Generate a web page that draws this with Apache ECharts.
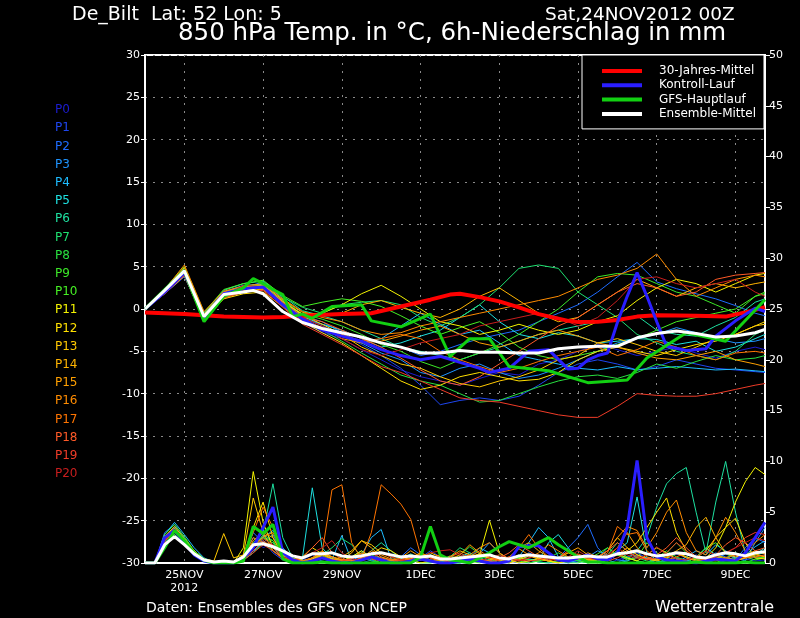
<!DOCTYPE html>
<html><head><meta charset="utf-8">
<script src="https://cdn.jsdelivr.net/npm/echarts@6/dist/echarts.min.js"></script>
<style>html,body{margin:0;padding:0;background:#000}#c{width:800px;height:618px}</style>
</head><body><div id="c"></div>
<script>
// 6-hourly steps starting Sat 24NOV2012 00Z
const stepCount = 64;
const dayLabels = ['25NOV\n2012','27NOV','29NOV','1DEC','3DEC','5DEC','7DEC','9DEC'];
const dayLabelIdx = [4,12,20,28,36,44,52,60];
const memberNames = ['P0','P1','P2','P3','P4','P5','P6','P7','P8','P9','P10','P11','P12','P13','P14','P15','P16','P17','P18','P19','P20'];
const memberColors = ['#1c1cd0','#1e46f0','#1e6cff','#1e94ff','#1ebcff','#1ee0e0','#1ee0a0','#1ee070','#28e040','#3ce828','#46f024','#f4f400','#ffe000','#ffc800','#ffb400','#ffa000','#ff8c00','#ff7400','#ff5a28','#f03c28','#c81e1e'];
const seriesNames = ['30-Jahres-Mittel','Kontroll-Lauf','GFS-Hauptlauf','Ensemble-Mittel'];

// member temperatures at these step indices
const tempIdx = [0,2,4,6,8,10,12,14,16,18,20,22,24,26,28,30,32,34,36,38,40,42,44,46,48,50,52,54,56,58,60,62,63];
const tempP0 = [0,2.0,4.2,-1.2,1.6,2.4,2.6,0.4,-1.6,-2.8,-3.5,-4.8,-6.0,-7.2,-8.0,-8.5,-9.0,-8.2,-7.5,-7.8,-6.5,-6.0,-5.0,-4.2,-4.8,-5.5,-5.0,-4.5,-5.2,-5.8,-5.0,-4.5,-4.8];
const tempP1 = [0,1.8,3.8,-1.0,1.4,2.2,2.8,0.8,-1.0,-2.0,-3.0,-4.2,-5.5,-7.0,-9.0,-11.3,-10.8,-10.5,-10.8,-10.3,-9.0,-7.5,-6.5,-6.0,-6.5,-7.2,-6.8,-6.0,-6.5,-7.0,-7.2,-7.4,-7.5];
const tempP2 = [0,2.1,4.4,-0.8,1.8,2.6,3.0,1.0,-1.2,-1.8,-2.5,-3.5,-4.0,-4.5,-5.5,-5.0,-4.2,-3.5,-3.0,-2.5,-1.5,-0.5,0.5,2.0,3.8,5.5,3.2,2.4,1.8,1.2,0.4,-0.5,-0.8];
const tempP3 = [0,1.9,4.0,-1.4,1.5,2.5,3.2,1.2,-0.8,-1.5,-2.8,-4.0,-5.2,-6.0,-7.5,-8.0,-7.0,-6.5,-7.5,-8.2,-7.8,-7.0,-6.0,-5.0,-4.0,-3.5,-3.0,-2.2,-2.8,-3.5,-4.0,-3.8,-3.5];
const tempP4 = [0,2.2,4.6,-0.6,2.0,2.8,2.9,0.6,-1.3,-2.5,-3.2,-4.0,-3.5,-2.0,-0.5,-1.8,-3.0,-2.5,-4.0,-5.5,-6.0,-6.5,-7.0,-7.2,-6.8,-7.2,-7.0,-6.8,-7.0,-7.2,-7.1,-7.3,-7.4];
const tempP5 = [0,2.0,4.3,-1.0,1.7,2.3,2.7,0.9,-0.9,-1.8,-2.5,-3.5,-4.5,-4.0,-3.2,-2.5,-1.0,0.5,-1.5,-3.0,-3.5,-2.8,-3.2,-4.0,-3.8,-3.5,-3.6,-4.2,-3.8,-5.0,-4.5,-3.5,-3.0];
const tempP6 = [0,2.3,4.8,-0.5,2.2,3.0,3.3,1.5,-0.2,-0.8,-1.5,-2.5,-3.5,-4.5,-5.0,-5.5,-6.0,-5.2,-4.5,-3.8,-3.0,-2.5,-2.0,-1.5,-1.2,-0.8,-2.5,-3.0,-3.2,-2.0,-1.0,0.8,1.2];
const tempP7 = [0,2.2,4.5,-0.9,1.9,2.6,3.0,1.4,0.2,-0.5,0.5,0.8,1.0,0.5,-1.0,-2.0,-1.0,0.5,2.5,4.8,5.2,4.8,2.0,0.5,-1.0,-3.0,-4.0,-5.0,-5.5,-6.0,-5.0,-3.0,-2.5];
const tempP8 = [0,1.9,4.1,-1.5,1.4,2.2,2.5,0.7,-1.1,-2.5,-3.8,-5.2,-6.5,-7.8,-8.5,-9.0,-10.0,-11.0,-10.8,-10.0,-9.2,-8.5,-8.0,-7.8,-8.2,-7.5,-6.5,-7.0,-6.2,-5.5,-6.0,-5.8,-5.5];
const tempP9 = [0,2.0,4.4,-1.1,1.8,2.5,2.8,1.0,-0.6,-1.2,-2.0,-3.0,-4.2,-5.0,-6.2,-7.0,-6.0,-5.2,-4.2,-3.0,-1.5,0.0,2.0,3.8,4.2,4.0,3.0,2.0,1.5,0.5,-0.5,1.5,1.8];
const tempP10 = [0,2.4,5.0,-0.4,2.3,3.0,3.4,1.6,0.3,0.8,1.2,0.9,0.3,-0.8,-2.0,-3.0,-2.2,-1.5,-2.8,-4.5,-5.5,-6.0,-5.5,-5.0,-4.2,-3.5,-2.5,-1.5,-1.0,-0.5,0.0,1.5,2.0];
const tempP11 = [0,2.1,4.6,-1.0,1.3,2.0,2.4,0.8,-0.6,-0.5,0.5,1.8,2.8,1.5,0.0,-1.5,-2.0,-3.0,-2.5,-1.8,-2.5,-3.0,-2.5,-1.5,-0.8,1.0,2.5,3.5,3.0,2.0,3.0,4.0,4.2];
const tempP12 = [0,1.8,3.9,-1.3,1.2,1.8,2.0,0.3,-1.5,-2.8,-4.0,-5.5,-7.0,-8.5,-9.5,-9.0,-8.0,-7.5,-8.0,-8.5,-8.3,-7.5,-6.0,-5.0,-4.5,-5.0,-5.5,-4.8,-4.2,-3.8,-3.0,-2.0,-1.5];
const tempP13 = [0,2.0,4.3,-0.7,1.6,2.2,2.6,0.9,-0.7,-1.8,-3.0,-4.5,-5.5,-6.5,-7.0,-8.0,-8.8,-9.2,-8.5,-8.0,-7.2,-6.0,-5.5,-4.0,-3.5,-4.2,-5.0,-5.5,-4.5,-3.5,-3.0,-2.0,-1.8];
const tempP14 = [0,2.2,4.9,-0.6,2.0,2.6,2.8,1.1,-0.4,-0.8,-0.5,0.5,1.0,0.2,-0.5,-1.0,0.0,1.5,2.5,1.0,-0.5,-1.5,-1.0,0.5,2.0,3.5,2.5,1.5,2.5,3.0,2.5,3.0,3.2];
const tempP15 = [0,1.9,4.2,-1.2,1.5,2.1,2.3,0.5,-1.2,-2.2,-3.5,-4.0,-3.8,-3.2,-2.5,-2.0,-3.0,-4.0,-4.5,-3.8,-3.0,-2.5,-3.2,-4.0,-4.5,-5.2,-5.8,-6.0,-5.5,-5.0,-6.0,-6.5,-6.8];
const tempP16 = [0,2.3,5.2,-0.3,2.1,2.7,3.0,1.2,-0.3,-1.0,-1.5,-2.5,-3.0,-2.8,-2.0,-1.5,-1.0,-0.5,0.0,0.5,1.0,1.5,2.5,3.5,4.0,4.8,6.5,3.5,1.5,2.5,3.5,4.0,3.8];
const tempP17 = [0,2.0,4.0,-1.0,1.4,2.3,2.5,0.6,-1.4,-2.5,-3.0,-3.8,-3.5,-3.0,-3.5,-5.0,-6.0,-6.8,-7.5,-7.0,-6.2,-5.5,-5.0,-4.5,-5.5,-4.8,-3.8,-4.5,-5.5,-6.0,-5.2,-5.0,-5.2];
const tempP18 = [0,2.1,4.5,-0.8,1.7,2.4,2.7,0.8,-0.9,-1.5,-2.5,-3.5,-4.5,-5.8,-7.2,-8.5,-9.0,-8.0,-6.5,-5.0,-3.5,-2.0,-1.0,0.5,2.0,3.0,2.5,1.5,2.0,3.5,4.0,4.2,4.3];
const tempP19 = [0,1.9,4.1,-1.4,1.3,2.0,2.2,0.2,-1.8,-3.0,-4.2,-5.5,-6.8,-7.5,-8.5,-9.5,-10.5,-10.8,-11.0,-11.5,-12.0,-12.5,-12.8,-12.8,-11.5,-10.0,-10.2,-10.3,-10.3,-10.0,-9.5,-9.0,-8.8];
const tempP20 = [0,1.8,4.0,-1.1,1.5,2.8,2.6,0.4,-1.0,-2.0,-3.5,-4.8,-5.5,-4.8,-4.0,-3.5,-3.0,-2.0,-1.5,-1.0,-0.5,-1.0,-2.0,-1.0,1.0,3.5,3.8,3.0,2.5,3.0,3.5,2.0,1.5];

// highlighted temperature curves (own step indices)
const normIdx = [0,4,8,12,14,16,20,23,26,29,31,32,34,36,38,40,43,44,46,48,50,52,56,59,61,63];
const normTemp = [-0.4,-0.6,-0.9,-1.0,-0.95,-0.8,-0.6,-0.5,0.3,1.1,1.7,1.8,1.4,0.9,0.2,-0.6,-1.4,-1.55,-1.5,-1.3,-0.9,-0.75,-0.8,-0.9,-0.4,0.2];
const ctrlIdx = [0,2,4,6,8,10,12,14,16,18,20,22,24,26,28,30,32,34,35,37,39,41,43,44,45,46,47,48,49,50,51,52,53,55,57,58,60,62,63];
const ctrlTemp = [0,2.0,4.3,-1.0,1.8,2.4,2.6,0.5,-1.2,-2.5,-3.2,-3.8,-4.8,-5.5,-6.0,-5.6,-6.3,-7.0,-7.5,-7.0,-5.0,-4.8,-7.1,-7.0,-6.0,-5.5,-5.2,-1.6,1.5,4.3,1.5,-1.5,-4.4,-4.9,-4.7,-3.2,-1.4,0.1,-0.3];
const mainIdx = [0,2,4,6,8,10,11,12,13,14,15,16,17,19,22,23,26,29,31,33,35,37,41,45,49,51,55,59,63];
const mainTemp = [0,2.3,4.5,-1.5,1.5,2.5,3.6,3.0,2.3,1.7,-0.9,-0.6,-1.1,0.3,0.5,-1.4,-2.1,-0.6,-5.6,-3.5,-3.5,-6.8,-7.3,-8.7,-8.4,-5.8,-2.8,-3.8,1.1];
const meanIdx = [0,2,4,6,8,10,11,12,14,16,18,20,22,24,26,28,30,32,34,36,38,40,42,44,46,48,50,52,54,56,58,60,62,63];
const meanTemp = [0,2.2,4.5,-0.9,1.7,2.0,2.2,1.8,-0.3,-1.6,-2.3,-2.8,-3.3,-4.0,-4.5,-5.2,-5.2,-4.9,-5.1,-5.1,-5.2,-5.2,-4.7,-4.5,-4.4,-4.4,-3.4,-2.9,-2.6,-2.9,-3.3,-3.2,-2.8,-2.4];

// 6h precipitation (mm), one value per step
const precP0 = [0,0,2.0,3.0,2.0,1.0,0.3,0,0,0, 0.8,2.5,1.5,2.0,0.5,0.2,0.3,0.8,0.4,0.2, 0,0.3,0.6,0.2,0,0,0.4,0.8,0.3,0.1, 0,0,0.2,0.5,0.3,0,0,0.2,0.6,0.3, 0.1,0,0,0.3,0.8,0.4,0.2,0,0.3,0.6, 0.2,0,0,0.4,0.9,0.5,0.2,0.1,0,0.3, 0.6,0.4,0.2,0.3];
const precP1 = [0,0,2.5,3.5,1.8,0.8,0.2,0,0,0.1, 0.5,1.5,2.2,1.0,0.3,0.2,0,0.4,0.9,0.5, 0.2,0,0,0.3,0.6,0.2,0,0,0.5,1.2, 0.6,0.2,0,0,0.4,0.8,0.5,0.2,0,0, 0.3,0.7,0.4,0,0.2,0.5,0.3,0,0,0.6, 1.0,0.5,0.2,0,0,0.4,0.8,0.3,0,0.2, 0.5,0.3,0.6,0.8];
const precP2 = [0,0,3.0,3.8,2.5,1.0,0.3,0.1,0,0, 0.6,3.0,2.0,1.5,0.4,0,0.2,0.5,0.2,0, 0,0.4,0.8,0.3,0,0.2,0.6,1.5,0.8,0.3, 0,0,0.3,0.7,0.4,0.2,0,0,0.5,1.0, 0.6,0.3,0.5,1.5,2.5,3.8,1.5,0.5,1.2,0.6, 0.2,0,0.3,0.8,0.4,0.2,0,0.5,1.0,0.6, 0.3,1.5,2.5,2.0];
const precP3 = [0,0,2.2,3.2,2.2,1.2,0.4,0.1,0,0, 0.4,1.2,2.0,2.8,0.8,0.2,0,0.3,0.6,0.2, 0,0,0.5,1.0,0.4,0,0,0.3,0.7,0.3, 0.1,0,0,0.4,0.9,2.0,1.0,0.3,0,0.2, 0.5,0.2,0,0,0.3,0.6,1.2,0.8,0.3,0.2, 0.6,0.4,0,0.2,0.5,0.3,0,0,0.4,0.9, 0.5,0.2,2.0,3.5];
const precP4 = [0,0,2.8,4.0,2.8,1.5,0.5,0.1,0,0, 0.3,1.0,2.5,3.2,1.5,0.4,0.2,0.5,1.0,0.3, 2.7,0.2,0.8,2.5,3.3,0.4,0.2,0,0.4,0.8, 0.3,0,0,0.5,1.5,1.0,0.3,0,0.6,2.0, 3.5,2.5,0.6,0.2,0,0.3,0.7,0.3,0,0.2, 0.8,0.5,0.2,0,0,0.6,1.2,0.8,1.8,1.2, 0.5,0.8,1.6,2.2];
const precP5 = [0,0,2.0,2.8,1.8,0.9,0.3,0,0,0, 0.5,1.8,2.6,1.5,0.8,0.3,0.5,7.4,1.5,0.4, 0.2,0.6,1.2,0.5,0.2,0,0.4,0.9,0.4,0.1, 0,0.2,0.6,1.0,0.5,0.2,0,0.3,0.8,0.4, 0.2,2.0,2.8,1.5,0.4,0.2,0,0.5,1.2,2.0, 6.5,1.0,0.3,0.8,0.4,0.2,0.5,1.5,0.8,0.3, 1.0,0.6,0.8,1.5];
const precP6 = [0,0,2.4,3.4,2.0,1.0,0.3,0,0,0, 0.6,2.0,3.0,7.8,2.5,0.5,0.2,0.3,0.8,0.4, 0.2,0,0.5,1.2,2.0,1.2,0.4,0,0.3,0.6, 0.2,0,0,0.4,0.7,0.3,0,0.2,0.5,0.3, 0.1,0,0.3,0.6,0.3,0,0.5,1.5,0.8,0.4, 1.2,2.5,5.5,7.8,8.8,9.4,5.0,1.0,6.0,10.0, 5.0,1.0,0.8,1.0];
const precP7 = [0,0,2.2,3.0,2.2,1.1,0.4,0.1,0,0, 0.4,1.5,2.8,2.2,0.6,0.2,0,0.4,0.8,1.5, 2.4,1.8,0.6,0.2,0,0.3,0.7,0.3,0,0, 0.2,0.6,1.5,1.0,0.4,0.2,0,0.3,0.6,0.3, 0.1,0,0.2,0.4,0.2,0,0.3,0.8,2.0,1.2, 0.5,0.2,0,0.4,1.0,0.6,0.3,0.2,0.8,0.5, 0.3,0.5,0.8,1.2];
const precP8 = [0,0,2.6,3.6,2.4,1.2,0.4,0,0,0, 0.3,1.0,2.0,1.2,0.5,0.2,0,0.2,0.5,0.2, 0,0,0.3,0.8,0.4,0.2,0,0,0.4,0.8, 0.4,0.2,0.8,1.6,0.9,0.4,0,0.3,0.6,0.3, 0.2,0.5,1.0,0.5,0.2,0,0,0.4,0.9,0.5, 0.2,0,0.5,1.2,0.6,0.2,0,0.3,0.6,0.3, 0.2,0,0.4,0.6];
const precP9 = [0,0,2.0,2.8,2.0,1.0,0.3,0,0,0, 0.5,1.6,2.4,2.0,0.6,0.2,0.4,0.9,0.5,0.2, 0,0.4,0.9,0.5,0.2,0,0,0.5,1.0,0.6, 0.3,0,0,0.3,0.7,0.4,0.2,0,0.5,0.8, 0.4,0.2,0,0.3,0.7,0.4,0,0.6,1.2,0.6, 0.2,0,0.4,1.0,2.0,1.0,0.4,0.2,0,0.5, 1.0,0.6,0.3,0.5];
const precP10 = [0,0,2.8,3.8,2.6,1.2,0.4,0.1,0,0, 0.5,1.8,2.5,2.2,0.7,0.3,0,0.3,0.7,0.3, 0.2,0.5,1.0,0.4,0,0.2,0.6,0.3,0,0, 0.3,0.7,0.4,0.2,0,0.3,0.8,0.4,0.2,0, 0.2,0.5,0.3,0,0,0.4,0.9,1.5,0.8,0.3, 0.5,2.0,1.0,0.4,0.2,0,0.6,1.5,2.0,1.0, 0.4,0.8,0.6,0.5];
const precP11 = [0,0,2.4,3.4,2.2,1.0,0.3,0,0,0, 1.5,9.0,4.0,1.5,0.5,0.2,0,0.4,0.9,0.4, 0.2,0.6,1.2,0.6,0.2,0,0.3,0.8,0.4,0.2, 0,0.2,0.6,0.4,0.8,4.2,1.0,0.3,0,0.2, 0.4,0.2,0,0.2,0.5,0.3,0,0.3,0.9,0.5, 0.2,0.8,1.5,1.0,0.4,0.2,0,0.5,1.5,3.5, 6.0,8.0,9.4,8.7];
const precP12 = [0,0,2.2,3.2,2.2,1.0,0.3,0,0,0, 0.8,3.5,6.0,2.5,0.8,0.3,0.6,1.5,0.9,0.6, 0.3,0.2,0.4,0.8,1.5,1.2,0.6,0.3,0,0.2, 0.5,0.3,0.2,0.6,0.9,0.5,0.3,0.2,0.4,0.9, 0.5,0.2,0,0.3,0.6,0.3,0.2,0.5,0.8,1.2, 2.0,3.5,5.0,6.4,3.0,1.2,0.5,1.2,2.5,3.5, 4.4,2.0,0.5,0.4];
const precP13 = [0,0,2.6,3.6,2.4,1.2,0.4,0.2,2.9,0.5, 0.8,6.4,3.0,1.2,0.5,0.2,0.4,1.0,0.5,0.3, 0.6,1.2,2.2,1.8,1.0,0.6,0.3,0.2,0.5,1.0, 0.6,0.3,0.2,0.5,0.9,0.4,0.2,0,0.3,0.7, 0.4,0.2,0.5,1.0,0.6,0.3,0.5,1.2,2.5,1.5, 0.8,0.4,0.2,0.5,1.0,0.6,0.3,0.2,0.6,0.4, 0.2,0.5,0.9,0.6];
const precP14 = [0,0,2.4,3.2,2.0,1.0,0.3,0,0,0, 0.5,2.2,3.0,2.5,0.8,0.3,0,0.5,1.2,0.6, 0.3,1.0,2.2,1.5,0.6,0.3,0,0.4,0.9,0.5, 0.3,0.6,1.2,0.8,0.4,0.2,0,0.5,1.5,2.0, 1.2,0.6,0.3,0.2,0.5,1.0,0.6,0.3,0.8,1.5, 0.8,0.4,0.3,0.6,1.2,1.8,3.5,4.5,2.5,1.0, 0.6,0.8,1.2,0.9];
const precP15 = [0,0,2.2,3.0,2.2,1.0,0.4,0.1,0,0, 0.6,2.5,2.0,1.8,0.6,0.2,0,0.3,0.8,0.4, 0.2,0.5,1.0,0.6,0.3,0.2,0.5,1.2,0.6,0.3, 0.2,0.4,0.8,1.8,1.0,0.5,0.3,0.6,1.4,0.8, 0.4,0.2,0.5,1.0,1.5,0.8,0.4,0.6,1.5,3.0, 1.5,0.6,0.3,0.5,1.0,0.5,0.2,0.4,0.8,0.5, 0.3,0.5,0.8,0.6];
const precP16 = [0,0,2.6,3.4,2.2,1.1,0.3,0,0,0, 0.4,1.5,2.6,3.0,1.0,0.4,0.2,0.5,1.0,0.6, 0.3,0.2,0.5,1.2,0.8,0.4,0.2,0.5,1.0,0.6, 0.4,0.2,0.5,0.8,1.5,2.0,1.0,0.4,0.2,0.5, 1.0,1.8,1.2,0.6,0.4,0.2,0.6,1.2,2.5,3.6, 3.2,1.5,3.0,5.0,6.2,3.0,1.2,0.8,2.5,4.5, 3.0,1.2,2.0,2.8];
const precP17 = [0,0,2.4,3.2,2.2,1.0,0.3,0,0,0, 0.6,3.0,5.5,3.5,1.2,0.4,0.2,0.5,1.0,7.2, 7.7,2.0,0.4,3.0,7.7,6.8,5.8,4.3,0.8,0.5, 0.8,0.3,0.2,0.6,1.2,0.6,0.3,0.5,1.5,2.8, 1.5,0.6,0.3,0.4,0.9,0.5,0.3,1.0,3.6,2.8, 3.0,1.2,0.5,0.3,0.6,1.0,0.5,0.3,0.2,0.5, 0.8,0.5,0.6,0.8];
const precP18 = [0,0,2.2,3.0,2.0,1.0,0.3,0,0,0, 0.4,1.2,2.2,1.5,0.5,0.2,0.5,1.5,2.5,1.0, 0.4,0.2,0.5,1.0,0.5,0.3,0.2,0.4,0.8,0.5, 0.3,0.6,1.0,0.5,0.3,0.2,0.5,1.0,1.8,1.2, 0.6,0.3,0.5,1.2,0.8,0.4,0.6,1.2,2.0,1.2, 0.6,0.4,0.8,1.5,2.5,1.5,0.6,0.4,0.8,1.8, 2.5,2.0,1.2,1.5];
const precP19 = [0,0,2.0,2.6,1.8,0.8,0.3,0,0,0, 0.3,1.0,1.8,1.2,0.4,0.2,0,0.3,0.6,0.3, 0.2,0.4,0.9,0.4,0.2,0,0.3,0.7,0.3,0.2, 0,0.2,0.5,0.3,0.2,0,0.3,0.6,0.3,0.2, 0.3,0.6,0.3,0.2,0.4,0.8,0.4,0.2,0.5,1.0, 0.6,0.3,0.5,1.0,2.0,1.2,0.5,0.3,0.6,1.0, 1.5,2.5,3.0,2.8];
const precP20 = [0,0,2.2,3.2,2.2,1.0,0.3,0,0,0, 0.4,1.5,2.4,1.8,0.6,0.3,0.5,1.0,1.5,2.2, 1.0,0.4,0.2,0.5,1.0,0.6,0.3,0.2,0.5,1.0, 1.2,1.3,0.8,0.4,0.2,0.5,0.8,0.4,0.2,0.5, 0.8,0.4,0.2,0.6,1.2,0.6,0.3,0.8,1.5,0.8, 0.4,0.8,1.6,0.8,0.4,0.3,0.6,1.2,0.8,1.0, 1.5,2.0,2.5,2.2];
const ctrlPrec = [0,0,2.5,3.2,2.0,0.8,0.2,0,0,0, 0.5,1.5,3.5,5.5,1.0,0.3,0,0.2,0.5,0.2, 0,0,0.3,0.6,0.3,0,0,0.2,0.4,0.2, 0,0,0.2,0.4,0.2,0,0,0.2,1.6,1.7, 1.7,1.0,0.3,0.2,0.5,0.8,0.4,0.3,1.0,3.5, 10.1,2.5,0.6,0.3,0.2,0.1,0,0.2,0.4,0.3, 0.2,1.0,2.5,4.0];
const mainPrec = [0,0,1.5,3.2,2.2,1.0,0.3,0,0,0, 0.2,3.6,2.9,3.8,0.4,0,0,0,0.1,0, 0,0,0,0,0,0,0,0,0.6,3.6, 0.8,0.3,0.2,0,0.5,1.0,1.6,2.1,1.8,1.5, 2.0,2.5,1.8,1.2,0.6,0.1,0.1,0,0,0, 0,0,0,0,0,0,0.1,0,0,0, 0,0.1,0,0];
const meanPrec = [0,0,1.8,2.6,1.8,0.9,0.3,0.1,0.2,0.1, 0.6,1.8,1.9,1.6,1.2,0.7,0.5,0.9,0.9,1.0, 0.7,0.6,0.7,0.9,1.0,0.8,0.6,0.7,0.6,0.7, 0.4,0.4,0.5,0.6,0.7,0.8,0.5,0.4,0.7,0.8, 0.7,0.6,0.5,0.5,0.6,0.7,0.6,0.6,0.9,1.0, 1.2,0.9,0.7,0.8,1.0,0.9,0.6,0.5,0.8,1.0, 0.9,0.7,1.0,1.1];

const memberTemps = [tempP0,tempP1,tempP2,tempP3,tempP4,tempP5,tempP6,tempP7,tempP8,tempP9,tempP10,tempP11,tempP12,tempP13,tempP14,tempP15,tempP16,tempP17,tempP18,tempP19,tempP20];
const memberPrecs = [precP0,precP1,precP2,precP3,precP4,precP5,precP6,precP7,precP8,precP9,precP10,precP11,precP12,precP13,precP14,precP15,precP16,precP17,precP18,precP19,precP20];

const FONT = 'DejaVu Sans';
const pair = (idx, vals) => vals.map((v, k) => [idx[k], v]);
const categories = Array.from({length: stepCount}, (_, i) => String(i));
const isDay = (i) => dayLabelIdx.indexOf(i) >= 0;

const series = [];
memberNames.forEach((n, i) => {
  series.push({name: n, type: 'line', yAxisIndex: 0, showSymbol: false, symbol: 'none',
    lineStyle: {width: 1, color: memberColors[i]}, itemStyle: {color: memberColors[i]},
    data: pair(tempIdx, memberTemps[i]), z: 2});
  series.push({name: n, type: 'line', yAxisIndex: 1, showSymbol: false, symbol: 'none',
    lineStyle: {width: 1, color: memberColors[i]}, itemStyle: {color: memberColors[i]},
    data: memberPrecs[i], z: 2});
});
const hl = [
  {name: seriesNames[0], color: '#ff0000', w: 4, t: pair(normIdx, normTemp), p: null},
  {name: seriesNames[1], color: '#2a1eff', w: 3, t: pair(ctrlIdx, ctrlTemp), p: ctrlPrec},
  {name: seriesNames[2], color: '#12d012', w: 3, t: pair(mainIdx, mainTemp), p: mainPrec},
  {name: seriesNames[3], color: '#ffffff', w: 3, t: pair(meanIdx, meanTemp), p: meanPrec}
];
hl.forEach((h, k) => {
  series.push({name: h.name, type: 'line', yAxisIndex: 0, symbol: 'none', showSymbol: false,
    lineStyle: {width: h.w, color: h.color}, itemStyle: {color: h.color}, data: h.t, z: 3 + k});
  if (h.p) series.push({name: h.name, type: 'line', yAxisIndex: 1, symbol: 'none', showSymbol: false,
    lineStyle: {width: h.w, color: h.color}, itemStyle: {color: h.color}, data: h.p, z: 3 + k});
});

const tStyle = (size) => ({color: '#fff', fontSize: size, fontWeight: 'normal', fontFamily: FONT});
const chart = echarts.init(document.getElementById('c'), null, {renderer: 'canvas'});
chart.setOption({
  backgroundColor: '#000',
  animation: false,
  textStyle: {fontFamily: FONT},
  title: [
    {text: 'De_Bilt  Lat: 52 Lon: 5', left: 72, top: 6, padding: 0, textStyle: tStyle(19)},
    {text: 'Sat,24NOV2012 00Z', left: 545, top: 6, padding: 0, textStyle: tStyle(18.5)},
    {text: '850 hPa Temp. in °C, 6h-Niederschlag in mm', left: 178, top: 21, padding: 0, textStyle: tStyle(24.5)},
    {text: 'Daten: Ensembles des GFS von NCEP', left: 146, top: 601, padding: 0, textStyle: tStyle(14)},
    {text: 'Wetterzentrale', left: 655, top: 600, padding: 0, textStyle: tStyle(16)}
  ],
  legend: [
    {data: seriesNames, orient: 'vertical', left: 582, top: 55, itemWidth: 40, itemHeight: 4, itemGap: 2.3,
     icon: 'rect', selectedMode: false, backgroundColor: '#000', borderColor: '#fff', borderWidth: 1,
     padding: [10, 8, 9, 20], textStyle: {color: '#fff', fontSize: 12, fontFamily: FONT, padding: [0, 0, 0, 12]}},
    {data: memberNames.map((n, i) => ({name: n, icon: 'none', textStyle: {color: memberColors[i]}})),
     orient: 'vertical', left: 50, top: 104, itemWidth: 0, itemHeight: 12, itemGap: 6.2, selectedMode: false,
     padding: 0, textStyle: {fontSize: 12, fontFamily: FONT}}
  ],
  grid: {left: 145, right: 35, top: 55, bottom: 55, show: true, borderColor: '#fff', borderWidth: 2, backgroundColor: '#000'},
  xAxis: {
    type: 'category', data: categories, boundaryGap: false,
    axisLine: {show: true, onZero: false, lineStyle: {color: '#fff', width: 2}},
    axisTick: {show: false},
    axisLabel: {color: '#fff', fontSize: 11, fontFamily: FONT, margin: 6, lineHeight: 13,
      interval: (i) => isDay(i), formatter: (v, i) => { const k = dayLabelIdx.indexOf(Number(v)); return k >= 0 ? dayLabels[k] : ''; }},
    splitLine: {show: true, interval: (i) => isDay(i), lineStyle: {color: '#8a8a8a', width: 1, type: [2, 6]}}
  },
  yAxis: [
    {type: 'value', min: -30, max: 30, interval: 5, position: 'left',
     axisLine: {show: true, lineStyle: {color: '#fff', width: 2}},
     axisTick: {show: true, length: 4, lineStyle: {color: '#fff'}},
     axisLabel: {color: '#fff', fontSize: 11, fontFamily: FONT, margin: 5},
     splitLine: {show: true, lineStyle: {color: '#8a8a8a', width: 1, type: [2, 6]}}},
    {type: 'value', min: 0, max: 50, interval: 5, position: 'right',
     axisLine: {show: true, lineStyle: {color: '#fff', width: 2}},
     axisTick: {show: true, length: 5, lineStyle: {color: '#fff'}},
     axisLabel: {color: '#fff', fontSize: 11, fontFamily: FONT, margin: 4},
     splitLine: {show: false}}
  ],
  series: series
});
</script>
</body></html>
